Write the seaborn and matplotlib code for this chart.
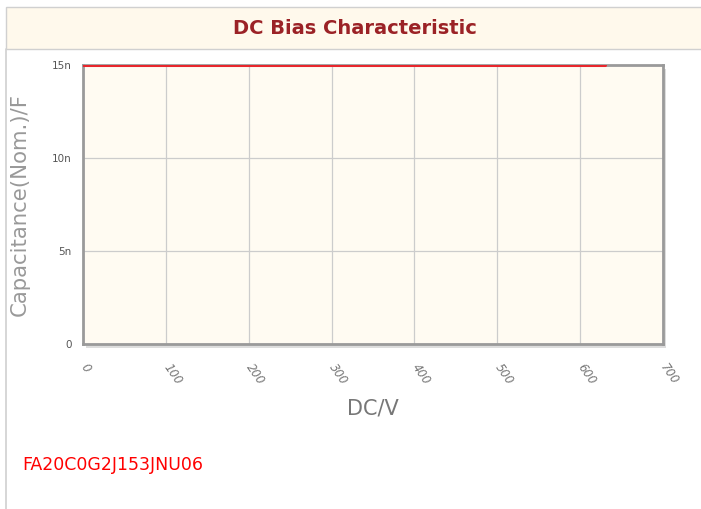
import numpy as np
import matplotlib
matplotlib.use('Agg')
import matplotlib.pyplot as plt
import matplotlib.patches as mpatches
import seaborn as sns
import pandas as pd

# data
dc_volts = [0, 100, 200, 300, 400, 500, 600, 630]
cap_nom = [15e-9, 15e-9, 15e-9, 15e-9, 15e-9, 15e-9, 15e-9, 15e-9]
x_ticks = [0, 100, 200, 300, 400, 500, 600, 700]
y_ticks = [0, 5e-9, 10e-9, 15e-9]
y_labels = ['0', '5n', '10n', '15n']
part_no = 'FA20C0G2J153JNU06'

df = pd.DataFrame({'DC': dc_volts, 'Cap': cap_nom})

sns.set_style('white')
plt.rcParams['font.family'] = ['DejaVu Sans']

W, H = 701, 509
fig = plt.figure(figsize=(W / 100, H / 100), dpi=100, facecolor='white')

# header bar
fig.patches.append(mpatches.Rectangle((6 / W, 1 - 49 / H), 1, 42 / H,
                                      transform=fig.transFigure, facecolor='#FFF9EC',
                                      edgecolor='#D0D0D0', linewidth=1))
fig.lines.append(plt.Line2D([6 / W, 6 / W], [0, 1 - 49 / H], transform=fig.transFigure,
                            color='#D0D0D0', linewidth=1.2))
fig.text(355 / W, 1 - 29 / H, 'DC Bias Characteristic',
         ha='center', va='center', fontsize=14, fontweight='bold', color='#9B2226')

ax = fig.add_axes([83 / W, 1 - 344 / H, 580 / W, 279 / H])
ax.set_facecolor('#FFFBF2')

# shadow of the plot frame
fig.patches.append(mpatches.Rectangle((86 / W, 1 - 348 / H), 580 / W, 279 / H,
                                      transform=fig.transFigure, facecolor='#DDDDDD',
                                      edgecolor='none', zorder=-1))

sns.lineplot(data=df, x='DC', y='Cap', ax=ax, color='#E8262C', linewidth=2.2, zorder=5)

ax.set_xlim(0, 700)
ax.set_ylim(0, 15e-9)
ax.set_xticks(x_ticks)
ax.set_xticklabels([str(v) for v in x_ticks], rotation=-55, ha='left', va='center',
                   fontsize=8.5, color='#777777', style='italic',
                   rotation_mode='anchor')
ax.set_yticks(y_ticks)
ax.set_yticklabels(y_labels, fontsize=7.5, color='#555555')
ax.grid(True, color='#CCCCCC', linewidth=0.9)
ax.tick_params(axis='both', length=5, width=0.8, color='#999999', direction='out', pad=3)
ax.tick_params(axis='x', pad=10)
for s in ax.spines.values():
    s.set_color('#9A9A9A')
    s.set_linewidth(2)

ax.set_xlabel('DC/V', fontsize=15, color='#777777', labelpad=8)
ax.set_ylabel('Capacitance(Nom.)/F', fontsize=15.3, color='#999999', labelpad=16)

fig.text(22 / W, 1 - 465 / H, part_no, ha='left', va='center', fontsize=12.5, color='#FF0000')

fig.savefig('out.png', dpi=100, facecolor='white')
